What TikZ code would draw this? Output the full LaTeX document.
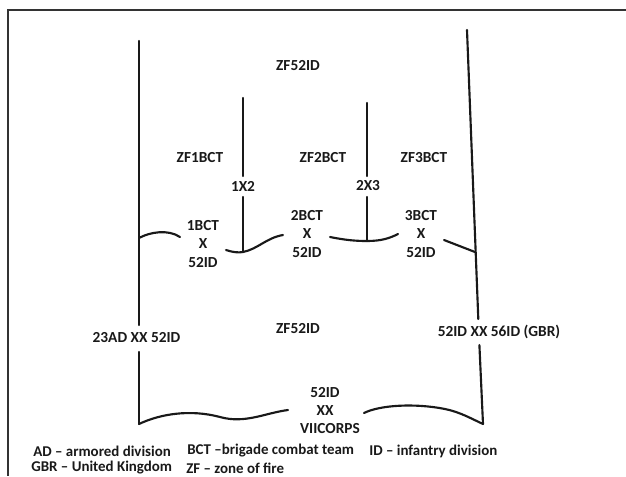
\documentclass[tikz,border=0pt]{standalone}
\usepackage{fontspec}
\setmainfont{Carlito}
\begin{document}
\begin{tikzpicture}[x=0.75pt,y=-0.75pt,
  ln/.style={line width=1.6pt, black!90, line cap=round},
  frm/.style={line width=1.5pt, black!80},
  lbl/.style={font=\fontsize{11.5}{13.7}\selectfont\bfseries, text=black!90, inner sep=0pt, align=center},
  leg/.style={font=\fontsize{11.2}{13.5}\selectfont\bfseries, text=black!90, inner sep=0pt, anchor=west}]
\useasboundingbox (0,0) rectangle (626,476);
% frame
\coordinate (F1) at (626,10);
\coordinate (F2) at (8,10);
\coordinate (F3) at (8,476);
\draw[frm] (F1) -- (F2) -- (F3);
% labels
\node[lbl] (zftop) at (298,66) {ZF52ID};
\node[lbl] (zf1) at (200,158) {ZF1BCT};
\node[lbl] (zf2) at (323,158) {ZF2BCT};
\node[lbl] (zf3) at (424,158) {ZF3BCT};
\node[lbl] (b12) at (243,186) {1X2};
\node[lbl] (b23) at (368,186) {2X3};
\node[lbl] (bct1) at (203,244) {1BCT\\X\\52ID};
\node[lbl] (bct2) at (307,234) {2BCT\\X\\52ID};
\node[lbl] (bct3) at (421,234) {3BCT\\X\\52ID};
\node[lbl] (lb) at (136.5,338) {23AD XX 52ID};
\node[lbl] (zfmid) at (298,329) {ZF52ID};
\node[lbl] (rb) at (499,332) {52ID XX 56ID (GBR)};
\node[lbl] (c1) at (325,393) {52ID};
\node[lbl] (c2) at (325,411) {XX};
\node[lbl] (c3) at (330,429) {VIICORPS};
% legend
\node[leg] (l1) at (33,451) {AD -- armored division};
\node[leg] (l2) at (187,451) {BCT --brigade combat team};
\node[leg] (l3) at (369,451) {ID -- infantry division};
\node[leg] (l4) at (31,468) {GBR -- United Kingdom};
\node[leg] (l5) at (186,468) {ZF -- zone of fire};
% left boundary
\coordinate (Lt) at (139,41);
\coordinate (La) at (139,325);
\coordinate (Lb) at (139,352);
\coordinate (Lbot) at (139,424);
\draw[ln] (Lt) -- (La);
\draw[ln] (Lb) -- (Lbot);
% right boundary
\coordinate (Rt) at (467,30);
\coordinate (Ra) at (478.3,319);
\coordinate (Rb) at (479.4,345);
\coordinate (Rbot) at (483,424);
\coordinate (Rj) at (475,252);
\draw[ln] (Rt) -- (Ra);
\draw[ln] (Rb) -- (Rbot);
% inner boundaries
\coordinate (I1t) at (243,98);
\coordinate (I1a) at (243,176);
\coordinate (I1b) at (243,197);
\coordinate (I1j) at (243,252);
\draw[ln] (I1t) -- (I1a);
\draw[ln] (I1b) -- (I1j);
\coordinate (I2t) at (367,103);
\coordinate (I2a) at (367,176);
\coordinate (I2b) at (367,197);
\coordinate (I2j) at (367,241);
\draw[ln] (I2t) -- (I2a);
\draw[ln] (I2b) -- (I2j);
% FLOT curve pieces
\coordinate (Lj) at (139,238);
\coordinate (c1e) at (180,237);
\coordinate (c2s) at (226,250);
\coordinate (c2e) at (283,235);
\coordinate (c3s) at (330,237);
\coordinate (c3e) at (398,234);
\coordinate (c4s) at (444,240);
\draw[ln] (Lj) .. controls (150,232) and (168,229) .. (c1e);
\draw[ln] (c2s) .. controls (232,252) and (238,253) .. (I1j)
  .. controls (258,249) and (266,238) .. (c2e);
\draw[ln] (c3s) .. controls (345,240) and (355,241) .. (I2j)
  .. controls (382,241) and (390,238) .. (c3e);
\draw[ln] (c4s) -- (Rj);
% bottom boundary
\coordinate (Bm) at (220,417);
\coordinate (Bl) at (288,410);
\coordinate (Br) at (364,413);
\coordinate (Bq) at (445,409);
\draw[ln] (Lbot) .. controls (160,414) and (190,409) .. (Bm)
  .. controls (245,424) and (265,413) .. (Bl);
\draw[ln] (Br) .. controls (380,405) and (415,403) .. (Bq)
  .. controls (460,412) and (472,419) .. (Rbot);
\end{tikzpicture}
\end{document}
